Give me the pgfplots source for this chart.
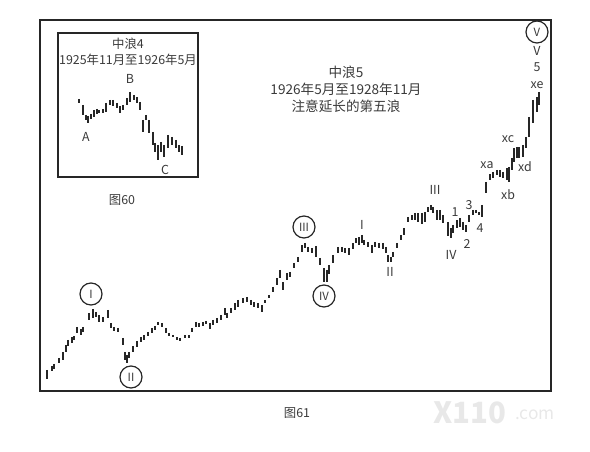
\documentclass[border=0pt]{standalone}
\usepackage{pgfplots}
\pgfplotsset{compat=1.18}
\usepackage{pgfplotstable}
\usepackage{fontspec}
\setmainfont{Noto Sans CJK SC}

% bars in picture coordinates (x, top, bottom), y grows downwards
\pgfplotstableread{
x lo hi
47 370 379
52 366 371
54 364 369
59 358 363
63 352 360
66 345 352
68 340 346
72 337 343
74 336 340
77 327 333
81 329 335
83 327 332
89 313 320
93 309 318
96 312 317
99 315 322
103 317 322
108 310 318
111 323 328
114 327 331
118 328 332
123 338 345
125 352 360
127 355 363
129 352 358
133 346 352
137 341 347
141 337 342
144 335 340
148 332 336
152 328 333
155 326 330
158 322 325
162 323 327
166 328 333
169 333 336
173 335 337
177 337 340
180 338 341
185 335 338
189 335 338
192 328 332
196 322 327
199 323 327
203 322 326
206 321 324
210 323 329
213 320 325
217 318 323
221 315 320
225 308 315
227 313 318
231 308 313
235 303 310
238 300 307
243 298 303
247 297 302
251 300 305
254 302 307
258 303 308
262 305 312
265 300 303
269 295 298
273 287 292
277 278 285
280 270 278
283 282 290
287 273 280
290 272 277
294 263 268
298 257 262
302 245 252
305 243 248
308 247 252
312 248 253
316 246 257
320 258 265
324 268 282
327 270 282
329 265 274
333 255 263
338 247 253
342 247 252
345 248 253
349 248 255
353 243 249
356 238 243
359 237 245
362 235 243
364 240 245
368 242 247
372 245 253
375 242 247
379 243 248
383 243 249
386 247 253
388 255 262
391 257 262
393 252 257
397 243 248
401 235 240
404 228 235
408 217 222
412 215 220
415 213 220
418 213 222
422 213 224
425 212 222
428 207 212
431 205 210
433 207 213
437 210 220
440 210 220
443 215 223
448 222 236
451 228 238
453 225 233
457 220 228
460 218 227
463 222 230
466 225 232
469 215 222
473 210 215
476 210 213
479 212 215
482 205 217
486 182 193
490 174 180
493 172 178
497 170 175
500 170 177
503 172 178
507 168 180
509 167 182
512 158 170
514 148 162
517 147 158
519 147 158
523 145 157
526 137 148
529 117 137
533 100 123
537 97 112
539 92 105
}\mainbars

\pgfplotstableread{
x lo hi
79 99 103
83 105 115
86 115 120
88 116 123
91 114 119
94 110 117
97 109 114
99 110 113
103 109 113
106 103 112
110 100 105
113 100 106
117 103 108
120 106 113
123 105 110
127 98 105
130 92 102
134 95 100
137 97 103
140 102 110
143 120 132
146 115 120
149 120 133
153 132 145
155 143 152
158 145 160
161 142 152
164 145 157
168 135 148
172 137 145
176 140 148
179 145 152
182 146 155
}\insetbars

\definecolor{ink}{HTML}{262626}
\definecolor{txt}{HTML}{3A3A3A}

\begin{document}
\begin{tikzpicture}
\begin{axis}[
    scale only axis, width=442.5pt, height=339pt,
    xmin=0, xmax=590, ymin=0, ymax=452, y dir=reverse,
    hide axis, clip=false
]
\path (axis cs:0,0) rectangle (axis cs:590,452);

% frames
\draw[ink, line width=1.4pt] (axis cs:40,20) rectangle (axis cs:551,391);
\draw[ink, line width=1.4pt] (axis cs:58,33) rectangle (axis cs:198,177);

\addplot[draw=none, mark=none,
    error bars/.cd, y dir=plus, y explicit, error mark=none,
    error bar style={draw=ink, solid, line width=1.45pt}]
    table[x=x, y=lo, y error expr=\thisrow{hi}-\thisrow{lo}] {\mainbars};
\addplot[draw=none, mark=none,
    error bars/.cd, y dir=plus, y explicit, error mark=none,
    error bar style={draw=ink, solid, line width=1.45pt}]
    table[x=x, y=lo, y error expr=\thisrow{hi}-\thisrow{lo}] {\insetbars};

% wave labels
\tikzset{cw/.style={circle, draw=ink, line width=0.9pt, minimum size=16.5pt, inner sep=0pt, text=txt, font=\fontsize{8.5}{9}\selectfont},
         lb/.style={text=txt, font=\fontsize{9.3}{10}\selectfont, inner sep=0pt}}
\node[cw] at (axis cs:91,294) {I};
\node[cw] at (axis cs:131,377) {II};
\node[cw] at (axis cs:304,227) {III};
\node[cw] at (axis cs:324,296) {IV};
\node[cw] at (axis cs:537,32) {V};
\node[lb] at (axis cs:537,51) {V};
\node[lb] at (axis cs:537,67) {5};
\node[lb] at (axis cs:537,85) {xe};
\node[lb] at (axis cs:508,139) {xc};
\node[lb] at (axis cs:525,167) {xd};
\node[lb] at (axis cs:487,165) {xa};
\node[lb] at (axis cs:508,195) {xb};
\node[lb] at (axis cs:362,225) {I};
\node[lb] at (axis cs:390,272) {II};
\node[lb] at (axis cs:435,190) {III};
\node[lb] at (axis cs:451,255) {IV};
\node[lb] at (axis cs:455,212) {1};
\node[lb] at (axis cs:467,244) {2};
\node[lb] at (axis cs:469,205) {3};
\node[lb] at (axis cs:480,228) {4};
\node[lb] at (axis cs:130,79) {B};
\node[lb] at (axis cs:86,137) {A};
\node[lb] at (axis cs:165,170) {C};

% titles
\node[lb, align=center, font=\fontsize{10.2}{12.8}\selectfont] at (axis cs:346,89) {中浪5\\1926年5月至1928年11月\\注意延长的第五浪};
\node[lb, align=center, font=\fontsize{9.3}{11.8}\selectfont] at (axis cs:128,52) {中浪4\\1925年11月至1926年5月};
\node[lb] at (axis cs:122,200) {图60};
\node[lb] at (axis cs:297,413) {图61};
\node[text=black!9, font=\bfseries\fontsize{22}{22}\selectfont, inner sep=0pt] at (axis cs:470,413) {X110};
\node[text=black!9, font=\fontsize{13}{13}\selectfont, inner sep=0pt, anchor=base west] at (axis cs:515,420) {.com};
\end{axis}
\end{tikzpicture}
\end{document}
